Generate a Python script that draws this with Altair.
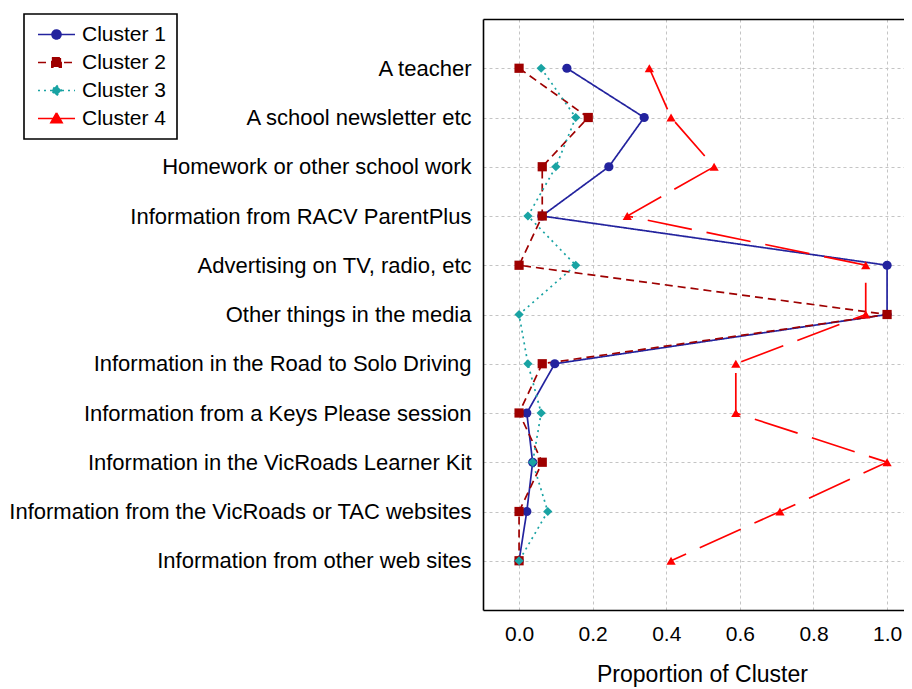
import json
import altair as alt
import pandas as pd

categories = [
    "A teacher",
    "A school newsletter etc",
    "Homework or other school work",
    "Information from RACV ParentPlus",
    "Advertising on TV, radio, etc",
    "Other things in the media",
    "Information in the Road to Solo Driving",
    "Information from a Keys Please session",
    "Information in the VicRoads Learner Kit",
    "Information from the VicRoads or TAC websites",
    "Information from other web sites",
]
cluster_names = ["Cluster 1", "Cluster 2", "Cluster 3", "Cluster 4"]
cluster1 = [0.13, 0.34, 0.244, 0.062, 1.0, 1.0, 0.097, 0.021, 0.037, 0.021, 0.0]
cluster2 = [0.0, 0.188, 0.063, 0.063, 0.0, 1.0, 0.063, 0.0, 0.063, 0.0, 0.0]
cluster3 = [0.06, 0.154, 0.1, 0.024, 0.154, 0.0, 0.024, 0.06, 0.037, 0.078, 0.0]
cluster4 = [0.354, 0.413, 0.53, 0.294, 0.942, 0.942, 0.589, 0.589, 1.0, 0.709, 0.413]
x_ticks = [0.0, 0.2, 0.4, 0.6, 0.8, 1.0]

colors = ["#23239e", "#9e0000", "#19a3a3", "#ff0000"]
dashes = [[1, 0], [8, 5], [2, 4], [45, 15]]
markers = ["circle", "square", "diamond", "triangle-up"]
legend_paths = [
    "M-2,0H2M-0.48,0a0.48,0.48 0 1,0 0.96,0a0.48,0.48 0 1,0 -0.96,0z",
    "M-2,0H2M-0.5,-0.5h1v1h-1z",
    "M-2,0H2M0,-0.55L0.55,0L0,0.55L-0.55,0z",
    "M-2,0H2M0,-0.6L0.6,0.45L-0.6,0.45z",
]

rows = []
for name, vals in zip(cluster_names, [cluster1, cluster2, cluster3, cluster4]):
    for i, v in enumerate(vals):
        rows.append({"cluster": name, "idx": i + 1, "value": v})
df = pd.DataFrame(rows)

FONT = "Liberation Sans"
label_expr = "[" + ",".join(json.dumps(c) for c in categories) + "][datum.value - 1]"

xscale = alt.Scale(domain=[-0.098, 1.046], nice=False, zero=False)
yscale = alt.Scale(domain=[0, 12], reverse=True, nice=False, zero=False)

x_axis = alt.Axis(
    orient="bottom", values=x_ticks, format=".1f", title="Proportion of Cluster",
    grid=True, gridColor="#c4c4c4", gridDash=[3, 3], gridWidth=1,
    ticks=False, labelPadding=13, labelFontSize=21, titleFontSize=23,
    titlePadding=19, titleX=219, titleFontWeight="normal",
    domainColor="black", domainWidth=1.6,
)
y_axis = alt.Axis(
    orient="left", values=list(range(1, 12)), labelExpr=label_expr, title=None,
    grid=True, gridColor="#c4c4c4", gridDash=[3, 3], gridWidth=1,
    ticks=False, labelPadding=12, labelFontSize=22, labelLimit=0,
    domainColor="black", domainWidth=1.6,
)
top_axis = alt.Axis(
    orient="top", values=x_ticks, labels=False, ticks=False, grid=False, title=None,
    domainColor="black", domainWidth=1.6,
)

color_scale = alt.Scale(domain=cluster_names, range=colors)
dash_scale = alt.Scale(domain=cluster_names, range=dashes)

lines = alt.Chart(df).mark_line(strokeWidth=1.7).encode(
    x=alt.X("value:Q", scale=xscale, axis=x_axis),
    y=alt.Y("idx:Q", scale=yscale, axis=y_axis),
    color=alt.Color("cluster:N", scale=color_scale, legend=None),
    strokeDash=alt.StrokeDash("cluster:N", scale=dash_scale, legend=None),
    order=alt.Order("idx:Q"),
)

points = alt.Chart(df).mark_point(filled=True, opacity=1, size=85).encode(
    x=alt.X("value:Q", scale=xscale, axis=None),
    y=alt.Y("idx:Q", scale=yscale, axis=None),
    color=alt.Color("cluster:N", scale=color_scale, legend=None),
    shape=alt.Shape("cluster:N", scale=alt.Scale(domain=cluster_names, range=markers), legend=None),
)

leg = alt.Legend(
    title=None, orient="none", legendX=-459, legendY=-5, direction="vertical",
    fillColor="white", strokeColor="black", padding=10,
    labelFont=FONT, labelFontSize=21, labelColor="black",
    symbolSize=342, symbolStrokeWidth=1.7, symbolOffset=12, labelOffset=15,
    rowPadding=6,
)

legend_layer = alt.Chart(df).transform_filter("false").mark_point(filled=True, opacity=1).encode(
    x=alt.X("value:Q", scale=xscale, axis=top_axis),
    y=alt.Y("idx:Q", scale=yscale, axis=None),
    fill=alt.Fill("cluster:N", scale=alt.Scale(domain=cluster_names, range=colors), legend=leg),
    stroke=alt.Stroke("cluster:N", scale=alt.Scale(domain=cluster_names, range=colors), legend=leg),
    strokeDash=alt.StrokeDash("cluster:N", scale=alt.Scale(domain=cluster_names, range=dashes), legend=leg),
    shape=alt.Shape("cluster:N", scale=alt.Scale(domain=cluster_names, range=legend_paths), legend=leg),
)

chart = alt.layer(lines, points, legend_layer).resolve_scale(
    shape="independent", strokeDash="independent", fill="independent", stroke="independent"
).resolve_axis(x="independent", y="independent").properties(
    width=421, height=591,
    autosize=alt.AutoSizeParams(type="none"),
    padding={"left": 475, "top": 11, "right": 0, "bottom": 79},
).configure_view(strokeWidth=0).configure_axis(
    labelFont=FONT, titleFont=FONT, labelColor="black", titleColor="black",
).configure_legend(strokeWidth=1.6)

chart.save("out.html", embed_options={"renderer": "svg", "actions": False})
